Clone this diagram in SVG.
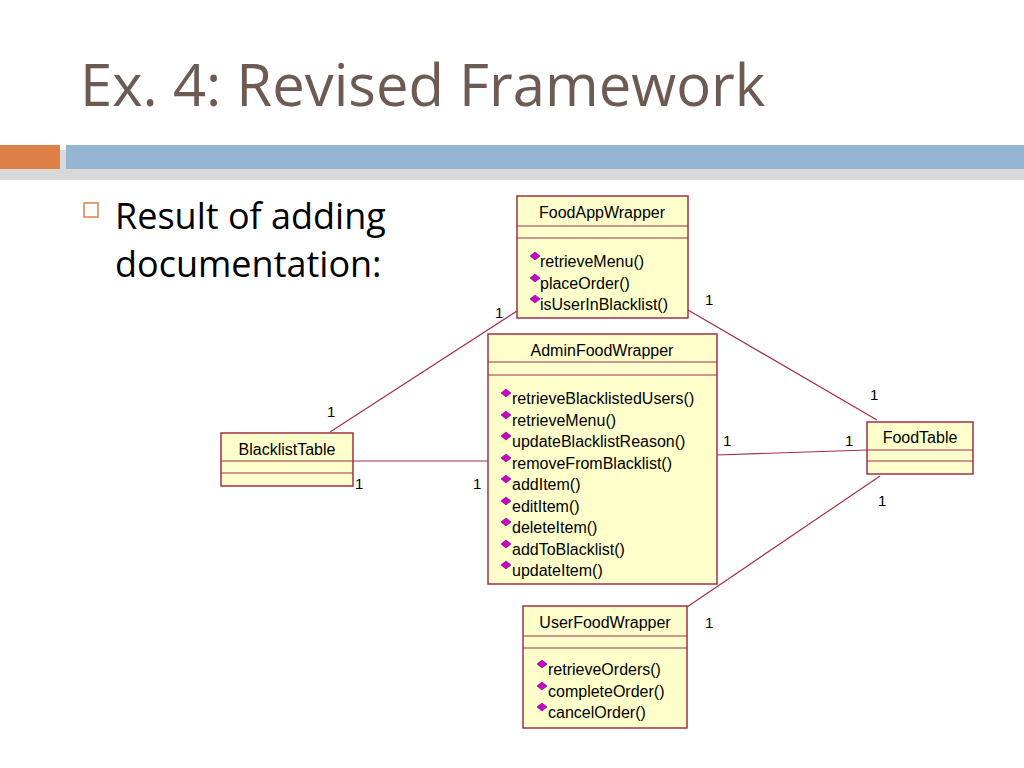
<svg xmlns="http://www.w3.org/2000/svg" width="1024" height="768" viewBox="0 0 1024 768">
<style>
.b{fill:#ffffcc;stroke:#a0304a;stroke-width:1.5}
.l{stroke:#a0304a;stroke-width:1.2;fill:none}
.t{font-family:"Liberation Sans",Arial,sans-serif;font-size:16px;fill:#000}
.o{font-family:"Liberation Sans",Arial,sans-serif;font-size:16px;fill:#000}
.m{font-family:"Liberation Sans",Arial,sans-serif;font-size:15px;fill:#000}
</style>
<defs><path id="d" d="M0,-4 L5,0 L0,4 L-5,0 Z" fill="#cc00cc" stroke="#660066" stroke-width="0.6"/></defs>
<rect width="1024" height="768" fill="#fff"/>
<text x="80" y="106" font-family="Open Sans,'Noto Sans',sans-serif" font-size="58" fill="#6d5a52">Ex. 4: Revised Framework</text>
<rect x="0" y="150" width="1024" height="30" fill="#d8d8d8"/>
<rect x="0" y="145" width="60" height="24" fill="#dd8047"/>
<rect x="66" y="145" width="958" height="24" fill="#94b6d2"/>
<rect x="84" y="203" width="14" height="14" fill="none" stroke="#dd8047" stroke-width="1.5"/>
<text font-family="Open Sans,'Noto Sans',sans-serif" font-size="36" fill="#000"><tspan x="115" y="229">Result of adding</tspan><tspan x="115" y="277">documentation:</tspan></text>
<g id="connectors" class="l">
<line x1="517" y1="311" x2="330" y2="432"/>
<line x1="688" y1="310" x2="877" y2="420"/>
<line x1="353" y1="461" x2="488" y2="461"/>
<line x1="717" y1="455" x2="867" y2="450"/>
<line x1="687" y1="607" x2="880" y2="476"/>
</g>
<g class="m">
<text x="495" y="318">1</text><text x="705" y="305">1</text>
<text x="327" y="417">1</text><text x="355" y="489">1</text><text x="473" y="489">1</text>
<text x="723" y="446">1</text><text x="845" y="446">1</text><text x="870" y="400">1</text>
<text x="878" y="506">1</text><text x="705" y="628">1</text>
</g>
<g id="FoodAppWrapper">
<rect class="b" x="517" y="196" width="171" height="122"/>
<line class="l" x1="517" y1="226" x2="688" y2="226"/><line class="l" x1="517" y1="238" x2="688" y2="238"/>
<text class="t" x="602" y="218" text-anchor="middle">FoodAppWrapper</text>
<use href="#d" x="535" y="256"/><text class="o" x="540" y="267">retrieveMenu()</text>
<use href="#d" x="535" y="278"/><text class="o" x="540" y="289">placeOrder()</text>
<use href="#d" x="535" y="299"/><text class="o" x="540" y="310">isUserInBlacklist()</text>
</g>
<g id="AdminFoodWrapper">
<rect class="b" x="488" y="334" width="229" height="250"/>
<line class="l" x1="488" y1="362" x2="717" y2="362"/><line class="l" x1="488" y1="375" x2="717" y2="375"/>
<text class="t" x="602" y="356" text-anchor="middle">AdminFoodWrapper</text>
<use href="#d" x="506" y="393"/><text class="o" x="512" y="404">retrieveBlacklistedUsers()</text>
<use href="#d" x="506" y="415"/><text class="o" x="512" y="426">retrieveMenu()</text>
<use href="#d" x="506" y="436"/><text class="o" x="512" y="447">updateBlacklistReason()</text>
<use href="#d" x="506" y="458"/><text class="o" x="512" y="469">removeFromBlacklist()</text>
<use href="#d" x="506" y="479"/><text class="o" x="512" y="490">addItem()</text>
<use href="#d" x="506" y="501"/><text class="o" x="512" y="512">editItem()</text>
<use href="#d" x="506" y="522"/><text class="o" x="512" y="533">deleteItem()</text>
<use href="#d" x="506" y="544"/><text class="o" x="512" y="555">addToBlacklist()</text>
<use href="#d" x="506" y="565"/><text class="o" x="512" y="576">updateItem()</text>
</g>
<g id="BlacklistTable">
<rect class="b" x="221" y="433" width="132" height="53"/>
<line class="l" x1="221" y1="461" x2="353" y2="461"/><line class="l" x1="221" y1="473" x2="353" y2="473"/>
<text class="t" x="287" y="455" text-anchor="middle">BlacklistTable</text>
</g>
<g id="FoodTable">
<rect class="b" x="867" y="422" width="106" height="52"/>
<line class="l" x1="867" y1="450" x2="973" y2="450"/><line class="l" x1="867" y1="461" x2="973" y2="461"/>
<text class="t" x="920" y="443" text-anchor="middle">FoodTable</text>
</g>
<g id="UserFoodWrapper">
<rect class="b" x="523" y="606" width="164" height="122"/>
<line class="l" x1="523" y1="636" x2="687" y2="636"/><line class="l" x1="523" y1="648" x2="687" y2="648"/>
<text class="t" x="605" y="628" text-anchor="middle">UserFoodWrapper</text>
<use href="#d" x="542" y="664"/><text class="o" x="548" y="675">retrieveOrders()</text>
<use href="#d" x="542" y="686"/><text class="o" x="548" y="697">completeOrder()</text>
<use href="#d" x="542" y="707"/><text class="o" x="548" y="718">cancelOrder()</text>
</g>
</svg>
